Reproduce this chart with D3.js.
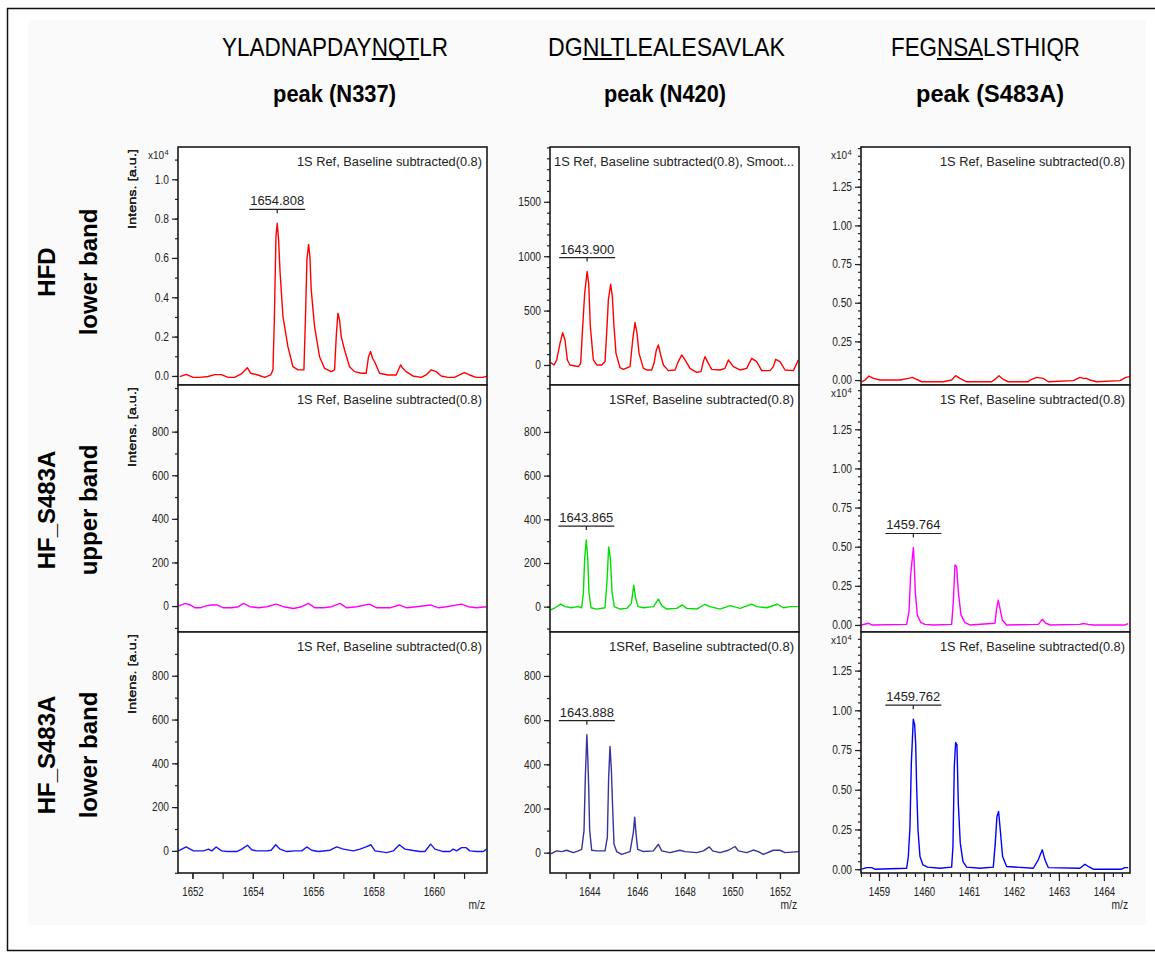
<!DOCTYPE html>
<html>
<head>
<meta charset="utf-8">
<script src="https://cdn.jsdelivr.net/npm/d3@7"></script>
<style>
  body { margin: 0; background: #ffffff; }
  svg text { font-family: "Liberation Sans", Arial, Helvetica, sans-serif; }
</style>
</head>
<body>
<svg id="fig" width="1155" height="956"></svg>
<script>
// ---------- categories ----------
const peptides = [
  { pre: "YLADNAPDAY", site: "NQT", post: "LR" },
  { pre: "DG", site: "NLT", post: "LEALESAVLAK" },
  { pre: "FEG", site: "NSA", post: "LSTHIQR" }
];
const peakTitles = ["peak (N337)", "peak (N420)", "peak (S483A)"];
const sampleNames = ["HFD", "HF_S483A", "HF_S483A"];
const bandNames = ["lower band", "upper band", "lower band"];
const captions = [
  ["1S Ref, Baseline subtracted(0.8)", "1S Ref, Baseline subtracted(0.8), Smoot...", "1S Ref, Baseline subtracted(0.8)"],
  ["1S Ref, Baseline subtracted(0.8)", "1SRef, Baseline subtracted(0.8)", "1S Ref, Baseline subtracted(0.8)"],
  ["1S Ref, Baseline subtracted(0.8)", "1SRef, Baseline subtracted(0.8)", "1S Ref, Baseline subtracted(0.8)"]
];

// ---------- tick labels ----------
const mzLabelsN337 = [1652, 1654, 1656, 1658, 1660];
const mzLabelsN420 = [1644, 1646, 1648, 1650, 1652];
const mzLabelsS483A = [1459, 1460, 1461, 1462, 1463, 1464];
const intensLabelsA = [0.0, 0.2, 0.4, 0.6, 0.8, 1.0];          // x10^4
const intensLabelsB = [0, 500, 1000, 1500];
const intensLabelsC = [0, 200, 400, 600, 800];
const intensLabelsD = [0.00, 0.25, 0.50, 0.75, 1.00, 1.25];    // x10^4

// ---------- labelled monoisotopic peaks (m/z) ----------
const peakLabels = [
  [1654.808, 1643.900, null],
  [null, 1643.865, 1459.764],
  [null, 1643.888, 1459.762]
];

// ---------- spectra: [m/z, intensity] ----------
// HFD lower band
const hfdN337 = [
  [1651.576,-0.003],[1651.797,0.008],[1652.018,-0.007],[1652.238,-0.007],[1652.514,-0.003],
  [1652.735,0.007],[1652.956,0.007],[1653.177,-0.007],[1653.397,-0.007],[1653.618,0.010],
  [1653.817,0.042],[1653.927,0.014],[1654.170,0.005],[1654.391,-0.007],[1654.589,0.005],
  [1654.667,0.031],[1654.711,0.276],[1654.766,0.708],[1654.808,0.776],[1654.854,0.692],
  [1654.898,0.539],[1654.998,0.302],[1655.163,0.149],[1655.329,0.047],[1655.494,0.031],
  [1655.693,0.031],[1655.748,0.319],[1655.792,0.590],[1655.847,0.669],[1655.891,0.607],
  [1655.935,0.437],[1656.046,0.251],[1656.211,0.098],[1656.377,0.039],[1656.598,0.022],
  [1656.708,0.031],[1656.764,0.200],[1656.819,0.319],[1656.874,0.285],[1656.929,0.200],
  [1657.040,0.132],[1657.205,0.047],[1657.371,0.022],[1657.592,0.014],[1657.757,0.014],
  [1657.834,0.098],[1657.901,0.124],[1657.967,0.090],[1658.033,0.073],[1658.199,0.014],
  [1658.475,0.005],[1658.751,0.005],[1658.894,0.056],[1658.972,0.039],[1659.082,0.022],
  [1659.303,0.000],[1659.579,-0.007],[1659.745,0.005],[1659.910,0.031],[1660.076,0.022],
  [1660.241,0.000],[1660.462,-0.007],[1660.683,-0.007],[1660.849,0.005],[1661.014,0.017],
  [1661.180,0.005],[1661.400,-0.007],[1661.621,-0.007],[1661.787,0.000]
];
const hfdN420 = [
  [1642.368,21],[1642.508,0],[1642.620,46],[1642.761,199],[1642.873,297],[1642.971,230],
  [1643.069,46],[1643.181,0],[1643.391,-9],[1643.531,-15],[1643.629,15],[1643.713,353],
  [1643.797,659],[1643.900,859],[1643.965,751],[1644.035,353],[1644.161,46],[1644.301,0],
  [1644.511,0],[1644.651,31],[1644.735,353],[1644.791,598],[1644.889,742],[1644.959,629],
  [1645.029,353],[1645.113,107],[1645.282,-25],[1645.422,-40],[1645.702,-15],[1645.814,230],
  [1645.912,390],[1645.996,291],[1646.080,107],[1646.262,-31],[1646.402,-46],[1646.612,-46],
  [1646.710,15],[1646.808,138],[1646.892,184],[1646.990,92],[1647.102,0],[1647.312,-52],
  [1647.592,-46],[1647.732,31],[1647.872,92],[1648.012,46],[1648.222,-31],[1648.502,-67],
  [1648.684,-61],[1648.782,31],[1648.852,77],[1648.992,15],[1649.132,-40],[1649.482,-46],
  [1649.692,-31],[1649.832,46],[1650.042,-15],[1650.322,-46],[1650.602,-31],[1650.812,61],
  [1651.022,31],[1651.232,-52],[1651.582,-52],[1651.722,-15],[1651.820,52],[1652.002,31],
  [1652.212,-46],[1652.562,-52],[1652.773,46]
];
const hfdS483A = [
  [1458.615,-0.011],[1458.689,0],[1458.778,0.026],[1458.874,0.011],[1459.022,0],[1459.467,0],
  [1459.652,0.011],[1459.741,0.017],[1459.837,0.004],[1459.948,-0.011],[1460.430,-0.011],
  [1460.615,0],[1460.704,0.028],[1460.800,0.011],[1460.948,-0.011],[1461.504,-0.011],
  [1461.578,0.004],[1461.667,0.028],[1461.763,0.004],[1461.874,-0.011],[1462.319,-0.011],
  [1462.356,0],[1462.504,0.017],[1462.652,0.011],[1462.763,-0.011],[1463.319,-0.004],
  [1463.467,0.017],[1463.541,0.011],[1463.615,0.011],[1463.689,0],[1463.837,-0.011],
  [1464.356,-0.004],[1464.489,0.017],[1464.578,0.022]
];
// HF_S483A upper band
const upperN337 = [
  [1651.536,0],[1651.757,12],[1651.923,5],[1652.088,-8],[1652.254,-8],[1652.475,2],
  [1652.640,5],[1652.806,5],[1653.026,-8],[1653.302,-8],[1653.523,-3],[1653.689,12],
  [1653.909,-3],[1654.185,-8],[1654.461,-3],[1654.770,9],[1655.013,-3],[1655.344,-11],
  [1655.620,-3],[1655.841,12],[1656.062,-8],[1656.338,-8],[1656.614,-3],[1656.890,12],
  [1657.110,-8],[1657.442,-3],[1657.861,9],[1658.104,-8],[1658.545,-8],[1658.854,5],
  [1659.097,-8],[1659.428,-3],[1659.892,5],[1660.146,-8],[1660.422,-3],[1660.918,9],
  [1661.139,-3],[1661.415,-8],[1661.746,-3]
];
const upperN420 = [
  [1642.368,-15],[1642.550,-5],[1642.789,12],[1642.971,0],[1643.251,-5],[1643.489,0],
  [1643.671,-5],[1643.741,62],[1643.797,223],[1643.865,305],[1643.923,223],[1643.979,62],
  [1644.063,-5],[1644.301,-11],[1644.651,-5],[1644.735,115],[1644.805,274],[1644.875,223],
  [1644.945,69],[1645.043,0],[1645.282,-11],[1645.562,-8],[1645.758,15],[1645.856,98],
  [1645.940,38],[1646.038,0],[1646.262,-5],[1646.682,0],[1646.892,35],[1647.032,5],
  [1647.242,-11],[1647.662,-8],[1647.900,8],[1648.082,-8],[1648.502,-11],[1648.852,11],
  [1649.062,0],[1649.482,-11],[1649.902,5],[1650.322,-8],[1650.812,12],[1651.022,0],
  [1651.442,-5],[1651.891,11],[1652.143,-5],[1652.423,0],[1652.773,0]
];
const upperS483A = [
  [1458.615,0],[1458.763,0.011],[1458.837,0],[1459.615,0.004],[1459.667,0.085],[1459.704,0.319],
  [1459.764,0.495],[1459.778,0.425],[1459.807,0.213],[1459.852,0.064],[1459.926,0.017],
  [1460.022,0.004],[1460.207,0],[1460.615,0.004],[1460.652,0.149],[1460.689,0.383],
  [1460.726,0.372],[1460.763,0.213],[1460.822,0.064],[1460.911,0.015],[1461.022,0],
  [1461.578,0.011],[1461.615,0.106],[1461.652,0.159],[1461.689,0.106],[1461.741,0.032],
  [1461.837,0],[1462.541,0.004],[1462.630,0.036],[1462.711,0.011],[1462.800,0],
  [1463.467,0.004],[1463.541,0.009],[1463.652,0.004],[1463.763,0],[1464.467,0],[1464.541,0.009]
];
// HF_S483A lower band
const lowerN337 = [
  [1651.536,0],[1651.647,8],[1651.790,18],[1651.923,8],[1652.033,0],[1652.364,0],[1652.530,8],
  [1652.640,0],[1652.784,18],[1652.971,0],[1653.137,-3],[1653.468,-3],[1653.634,8],[1653.821,26],
  [1653.965,5],[1654.130,0],[1654.461,0],[1654.605,3],[1654.759,28],[1654.903,8],[1655.124,-3],
  [1655.400,0],[1655.620,0],[1655.786,18],[1655.951,3],[1656.172,-3],[1656.558,3],[1656.779,18],
  [1657.000,8],[1657.331,0],[1657.552,8],[1657.751,18],[1657.916,28],[1658.049,0],[1658.435,-8],
  [1658.656,0],[1658.854,28],[1659.042,8],[1659.263,3],[1659.539,-3],[1659.704,-3],[1659.892,31],
  [1660.035,8],[1660.311,-3],[1660.532,-3],[1660.642,8],[1660.753,0],[1660.918,15],[1661.062,15],
  [1661.194,0],[1661.415,-3],[1661.636,-3],[1661.746,8]
];
const lowerN420 = [
  [1642.368,-5],[1642.620,8],[1642.831,5],[1643.041,11],[1643.321,0],[1643.531,8],[1643.671,15],
  [1643.769,100],[1643.825,346],[1643.888,534],[1643.923,446],[1643.965,300],[1644.007,100],
  [1644.091,11],[1644.301,8],[1644.651,8],[1644.749,69],[1644.805,346],[1644.861,481],
  [1644.917,377],[1644.973,200],[1645.029,38],[1645.141,5],[1645.352,-8],[1645.702,5],
  [1645.842,92],[1645.898,161],[1645.954,85],[1646.024,15],[1646.262,5],[1646.682,8],
  [1646.892,38],[1647.032,8],[1647.382,0],[1647.802,11],[1648.012,5],[1648.502,0],[1648.782,8],
  [1649.034,26],[1649.174,8],[1649.482,0],[1649.832,11],[1650.112,28],[1650.252,8],[1650.602,0],
  [1650.882,12],[1651.092,5],[1651.302,-8],[1651.722,11],[1652.002,11],[1652.212,0],[1652.815,5]
];
const lowerS483A = [
  [1458.615,0],[1458.726,0.010],[1458.837,0.010],[1458.911,0],[1459.615,0.006],[1459.652,0.080],
  [1459.689,0.268],[1459.719,0.667],[1459.762,0.944],[1459.793,0.908],[1459.815,0.793],
  [1459.837,0.520],[1459.867,0.247],[1459.911,0.080],[1459.978,0.027],[1460.081,0.013],
  [1460.356,0.006],[1460.615,0.013],[1460.644,0.143],[1460.674,0.646],[1460.704,0.797],
  [1460.733,0.782],[1460.763,0.415],[1460.807,0.164],[1460.867,0.048],[1460.948,0.013],
  [1461.244,0.006],[1461.541,0.013],[1461.585,0.164],[1461.622,0.331],[1461.659,0.363],
  [1461.696,0.247],[1461.748,0.080],[1461.837,0.017],[1462.430,0.006],[1462.541,0.059],
  [1462.630,0.122],[1462.689,0.059],[1462.763,0.010],[1463.467,0.006],[1463.578,0.031],
  [1463.652,0.017],[1463.763,0],[1464.393,0],[1464.467,0.010],[1464.541,0.010]
];

// ---------- layout ----------
const colLeft = [178, 550, 861], colRight = [487, 799, 1130];
const rowTop = [147, 385, 632], rowBottom = [385, 632, 873];
const mzDomains = [[1651.52, 1661.76], [1642.34, 1652.80], [1458.60, 1464.58]];
const mzLabels = [mzLabelsN337, mzLabelsN420, mzLabelsS483A];
const mzMinorStep = [1, 1, 0.2];

const panels = [
  [
    { data: hfdN337, color: "#ff0000", yDomain: [-0.046, 1.164], yLabels: intensLabelsA, minor: 0.1, fmt: ".1f", exp: true },
    { data: hfdN420, color: "#ff0000", yDomain: [-184, 2004], yLabels: intensLabelsB, minor: 100, fmt: "d", exp: false },
    { data: hfdS483A, color: "#ff0000", yDomain: [-0.032, 1.507], yLabels: intensLabelsD, minor: 0.05, fmt: ".2f", exp: true }
  ],
  [
    { data: upperN337, color: "#ff00ff", yDomain: [-119, 1014], yLabels: intensLabelsC, minor: 100, fmt: "d", exp: false },
    { data: upperN420, color: "#00e000", yDomain: [-116, 1015], yLabels: intensLabelsC, minor: 100, fmt: "d", exp: false },
    { data: upperS483A, color: "#ff00ff", yDomain: [-0.045, 1.533], yLabels: intensLabelsD, minor: 0.05, fmt: ".2f", exp: true }
  ],
  [
    { data: lowerN337, color: "#1414ff", yDomain: [-101, 1000], yLabels: intensLabelsC, minor: 100, fmt: "d", exp: false },
    { data: lowerN420, color: "#34349c", yDomain: [-92, 999], yLabels: intensLabelsC, minor: 100, fmt: "d", exp: false },
    { data: lowerS483A, color: "#0000ff", yDomain: [-0.024, 1.493], yLabels: intensLabelsD, minor: 0.05, fmt: ".2f", exp: true }
  ]
];

// squeeze text horizontally to mimic the instrument's condensed font
function condense(sel, factor) {
  sel.each(function () {
    const len = this.getComputedTextLength();
    d3.select(this).attr("textLength", len * factor).attr("lengthAdjust", "spacingAndGlyphs");
  });
}

const svg = d3.select("#fig");

// page background and outer frame
svg.append("rect").attr("x", 0).attr("y", 0).attr("width", 1155).attr("height", 956).attr("fill", "#ffffff");
svg.append("rect").attr("x", 28).attr("y", 20).attr("width", 1118).attr("height", 905).attr("fill", "#fafafa");
svg.append("rect").attr("x", 7.5).attr("y", 8.5).attr("width", 1160).attr("height", 942)
  .attr("fill", "none").attr("stroke", "#111").attr("stroke-width", 1.5);

// column headings: peptide sequence with the glycosylation motif underlined
const titleCx = [335, 666.5, 985.5];
const titleW = [226, 237, 189];
const subCx = [334.5, 665, 990];
const subW = [123, 122, 148];
peptides.forEach((p, i) => {
  const hg = svg.append("g");
  const parts = [p.pre, p.site, p.post].map(s =>
    hg.append("text").attr("font-size", 25).attr("fill", "#000").text(s));
  const widths = parts.map(t => t.node().getComputedTextLength());
  const total = d3.sum(widths);
  const sx = titleW[i] / total;
  let acc = 0;
  parts.forEach((t, k) => { t.attr("x", acc); acc += widths[k]; });
  // underline under the sequon
  hg.append("line")
    .attr("x1", widths[0]).attr("x2", widths[0] + widths[1])
    .attr("y1", 3).attr("y2", 3)
    .attr("stroke", "#000").attr("stroke-width", 1.8 / 1);
  hg.attr("transform", `translate(${titleCx[i] - titleW[i] / 2},56) scale(${sx},1)`);

  svg.append("text")
    .attr("x", subCx[i]).attr("y", 102)
    .attr("text-anchor", "middle")
    .attr("font-size", 23).attr("font-weight", "bold")
    .attr("textLength", subW[i]).attr("lengthAdjust", "spacingAndGlyphs")
    .text(peakTitles[i]);
});

// row headings
const rowCenter = [272, 510, 755];
sampleNames.forEach((s, r) => {
  svg.append("text")
    .attr("transform", `translate(55,${rowCenter[r]}) rotate(-90)`)
    .attr("text-anchor", "middle").attr("font-size", 24).attr("font-weight", "bold")
    .text(s);
  svg.append("text")
    .attr("transform", `translate(97,${rowCenter[r]}) rotate(-90)`)
    .attr("text-anchor", "middle").attr("font-size", 24).attr("font-weight", "bold")
    .text(bandNames[r]);
});

const defs = svg.append("defs");

panels.forEach((row, r) => {
  row.forEach((pn, c) => {
    const x0 = colLeft[c], x1 = colRight[c], y0 = rowTop[r], y1 = rowBottom[r];
    const x = d3.scaleLinear().domain(mzDomains[c]).range([x0, x1]);
    const y = d3.scaleLinear().domain(pn.yDomain).range([y1, y0]);
    const g = svg.append("g");

    const clipId = `clip-${r}-${c}`;
    defs.append("clipPath").attr("id", clipId)
      .append("rect").attr("x", x0).attr("y", y0).attr("width", x1 - x0).attr("height", y1 - y0);

    g.append("rect").attr("x", x0).attr("y", y0).attr("width", x1 - x0).attr("height", y1 - y0)
      .attr("fill", "#ffffff");

    // spectrum trace
    const line = d3.line().x(d => x(d[0])).y(d => y(d[1]));
    g.append("path").datum(pn.data)
      .attr("clip-path", `url(#${clipId})`)
      .attr("d", line)
      .attr("fill", "none").attr("stroke", pn.color).attr("stroke-width", 1.4)
      .attr("stroke-linejoin", "round");

    // y axis: labelled ticks + minor ticks
    const yMin = Math.ceil(pn.yDomain[0] / pn.minor) * pn.minor;
    const minorVals = d3.range(yMin, pn.yDomain[1], pn.minor).map(v => +v.toFixed(4));
    const yMinor = g.append("g").attr("transform", `translate(${x0},0)`)
      .call(d3.axisLeft(y).tickValues(minorVals).tickSize(3).tickFormat(""));
    const yMajor = g.append("g").attr("transform", `translate(${x0},0)`)
      .call(d3.axisLeft(y).tickValues(pn.yLabels).tickSize(6).tickPadding(3).tickFormat(d3.format(pn.fmt)));
    [yMinor, yMajor].forEach(a => {
      a.select(".domain").remove();
      a.selectAll("line").attr("stroke", "#222").attr("stroke-width", 1.2);
      a.selectAll("text").attr("font-size", 12).attr("fill", "#222");
    });
    yMinor.selectAll("text").remove();
    condense(yMajor.selectAll("text"), 0.85);

    // axis title and exponent
    g.append("text")
      .attr("transform", `translate(136,${y0 + 2}) rotate(-90)`)
      .attr("text-anchor", "end").attr("font-size", 11.5).attr("fill", "#222")
      .attr("textLength", 80).attr("lengthAdjust", "spacingAndGlyphs")
      .text("Intens. [a.u.]");
    if (pn.exp) {
      g.append("text")
        .attr("x", x0 - 14).attr("y", y0 + 12).attr("text-anchor", "end")
        .attr("font-size", 10).attr("fill", "#222").text("x10");
      g.append("text")
        .attr("x", x0 - 13.5).attr("y", y0 + 8).attr("text-anchor", "start")
        .attr("font-size", 7.5).attr("fill", "#222").text("4");
    }

    // processing caption
    g.append("text")
      .attr("x", x1 - 5).attr("y", y0 + 19).attr("text-anchor", "end")
      .attr("font-size", 12.5).attr("fill", "#222")
      .attr("textLength", captions[r][c].length > 34 ? 240 : 185).attr("lengthAdjust", "spacingAndGlyphs")
      .text(captions[r][c]);

    // labelled monoisotopic peak
    const pk = peakLabels[r][c];
    if (pk !== null) {
      const apex = pn.data.find(d => d[0] === pk);
      const px = x(pk), ly = y(apex[1]) - 14;
      g.append("line").attr("x1", px - 28).attr("x2", px + 28).attr("y1", ly).attr("y2", ly)
        .attr("stroke", "#222").attr("stroke-width", 1.2);
      g.append("line").attr("x1", px).attr("x2", px).attr("y1", ly).attr("y2", ly + 4)
        .attr("stroke", "#222").attr("stroke-width", 1.2);
      g.append("text")
        .attr("x", px).attr("y", ly - 4).attr("text-anchor", "middle")
        .attr("font-size", 12.5).attr("fill", "#222")
        .attr("textLength", 54).attr("lengthAdjust", "spacingAndGlyphs")
        .text(d3.format(".3f")(pk));
    }

    // frame
    g.append("rect").attr("x", x0).attr("y", y0).attr("width", x1 - x0).attr("height", y1 - y0)
      .attr("fill", "none").attr("stroke", "#1a1a1a").attr("stroke-width", 1.6);

    // x axis along the bottom row
    if (r === 2) {
      const xd = mzDomains[c];
      const mMin = Math.ceil(xd[0] / mzMinorStep[c]) * mzMinorStep[c];
      const mzMinor = d3.range(mMin, xd[1], mzMinorStep[c]).map(v => +v.toFixed(3));
      const xMinor = g.append("g").attr("transform", `translate(0,${y1})`)
        .call(d3.axisBottom(x).tickValues(mzMinor).tickSize(c === 2 ? 4 : 6).tickFormat(""));
      const xMajor = g.append("g").attr("transform", `translate(0,${y1})`)
        .call(d3.axisBottom(x).tickValues(mzLabels[c]).tickSize(c === 2 ? 8 : 6).tickPadding(c === 2 ? 6 : 8).tickFormat(d3.format("d")));
      [xMinor, xMajor].forEach(a => {
        a.select(".domain").remove();
        a.selectAll("line").attr("stroke", "#222").attr("stroke-width", 1.2);
        a.selectAll("text").attr("font-size", 12).attr("fill", "#222");
      });
      xMinor.selectAll("text").remove();
      condense(xMajor.selectAll("text"), 0.8);
      const mz = g.append("text")
        .attr("x", x1 - 2).attr("y", 909).attr("text-anchor", "end")
        .attr("font-size", 12).attr("fill", "#222").text("m/z");
      condense(mz, 0.85);
    }
  });
});
</script>
</body>
</html>
